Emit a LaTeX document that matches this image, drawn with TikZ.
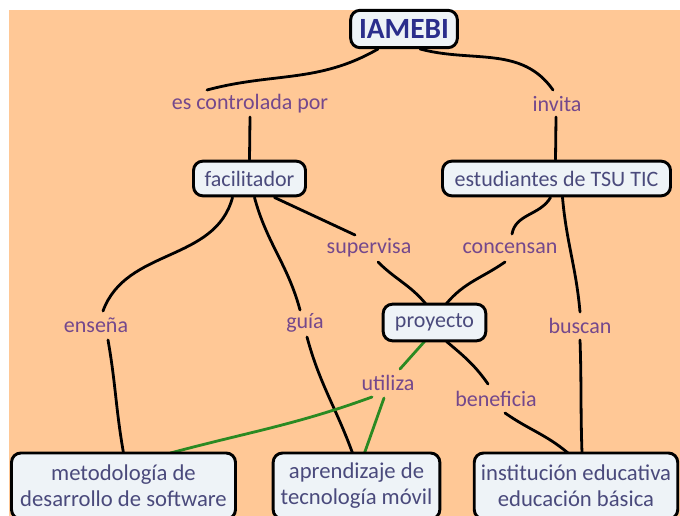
\documentclass[tikz,border=0pt]{standalone}
\usepackage{fontspec}
\setmainfont{Carlito}
\usetikzlibrary{positioning,backgrounds}
\definecolor{peach}{HTML}{FFC896}
\definecolor{boxfill}{HTML}{EEF3F7}
\definecolor{lblpurple}{HTML}{74488C}
\definecolor{boxtext}{HTML}{4A4A7C}
\definecolor{rootblue}{HTML}{2B2E8C}
\definecolor{linkgreen}{HTML}{2A8A22}

\begin{document}
\begin{tikzpicture}[x=0.75pt,y=-0.75pt,
  concept/.style={draw=black,line width=2.2pt,rounded corners=7pt,fill=boxfill,
    text=boxtext,font=\fontsize{16.5}{19.5}\selectfont,align=center,
    inner xsep=5pt,minimum height=26pt},
  link/.style={text=lblpurple,font=\fontsize{16.5}{19.5}\selectfont,inner sep=1pt},
  conn/.style={line width=2.1pt,line cap=round},
  gconn/.style={conn,draw=linkgreen}]
  \useasboundingbox (0,0) rectangle (680,516);

  % Top: root and first links
  \node[concept,minimum width=80pt,minimum height=28pt,text=rootblue,
    font=\fontsize{22}{24}\selectfont\bfseries] (iamebi) at (404,29) {IAMEBI};
  \node[link] (ctrl) at (250,104) {es controlada por};
  \node[link] (invita) at (557,104) {invita};

  % Second row
  \node[concept,minimum width=84pt] (facil) at (249.5,178.5) {facilitador};
  \node[concept,minimum width=171pt] (estud) at (556.5,178.5) {estudiantes de TSU TIC};

  % Middle: links and project
  \node[link] (superv) at (369,248) {supervisa};
  \node[link] (concen) at (510,248) {concensan};
  \node[link] (ensena) at (96,325) {enseña};
  \node[link] (guia) at (305,323) {guía};
  \node[concept,minimum width=77pt,minimum height=27.5pt] (proy) at (434.5,322.5) {proyecto};
  \node[link] (buscan) at (580,326) {buscan};
  \node[link] (utiliza) at (388,383) {utiliza};
  \node[link] (benef) at (496,399) {beneficia};

  % Bottom: leaves (cut by the page edge)
  \node[concept,minimum width=168pt,minimum height=49.5pt,font=\fontsize{17}{19.5}\selectfont] (metod) at (123.5,486)
    {metodología de\\desarrollo de software};
  \node[concept,minimum width=125pt,minimum height=49.5pt,font=\fontsize{17}{19.5}\selectfont] (aprend) at (356.5,486)
    {aprendizaje de\\tecnología móvil};
  \node[concept,minimum width=142pt,minimum height=49.5pt,font=\fontsize{17}{19.5}\selectfont] (instit) at (576,486)
    {institución educativa\\educación básica};

  \begin{scope}[on background layer]
    \fill[peach] (9,10) rectangle (680,516);
    % black connectors
    \draw[conn] ([shift={(-26,20)}]iamebi.center) to[out=210,in=15] ([shift={(-43,-14)}]ctrl.center);
    \draw[conn] ([shift={(16,20)}]iamebi.center) to[out=-15,in=125] ([shift={(-4,-14)}]invita.center);
    \draw[conn] ([shift={(0,13)}]ctrl.center) -- ([shift={(0,-19)}]facil.center);
    \draw[conn] ([shift={(-1,13)}]invita.center) -- ([shift={(-1,-19)}]estud.center);
    \draw[conn] ([shift={(-17,19)}]facil.center) to[out=255,in=70] ([shift={(7,-14)}]ensena.center);
    \draw[conn] ([shift={(12,15)}]ensena.center) to[out=-80,in=100] ([shift={(0,-33)}]metod.center);
    \draw[conn] ([shift={(5,19)}]facil.center) to[out=-75,in=105] ([shift={(-5,-13)}]guia.center);
    \draw[conn] ([shift={(2,14)}]guia.center) to[out=-75,in=110] ([shift={(-4,-33)}]aprend.center);
    \draw[conn] ([shift={(25,19)}]facil.center) to[out=-25,in=155] ([shift={(-14,-13)}]superv.center);
    \draw[conn] ([shift={(9,14)}]superv.center) to[out=-45,in=130] ([shift={(-9,-19)}]proy.center);
    \draw[conn] ([shift={(-6,19)}]estud.center) to[out=240,in=80] ([shift={(2,-14)}]concen.center);
    \draw[conn] ([shift={(-5,14)}]concen.center) to[out=215,in=50] ([shift={(12,-19)}]proy.center);
    \draw[conn] ([shift={(6,19)}]estud.center) to[out=-85,in=95] ([shift={(0,-14)}]buscan.center);
    \draw[conn] ([shift={(0,14)}]buscan.center) to[out=-88,in=92] ([shift={(6,-33)}]instit.center);
    \draw[conn] ([shift={(12,19)}]proy.center) to[out=-40,in=125] ([shift={(-8,-15)}]benef.center);
    \draw[conn] ([shift={(9,14)}]benef.center) to[out=-35,in=140] ([shift={(-8,-33)}]instit.center);
    % green connectors
    \draw[gconn] ([shift={(-10,19)}]proy.center) -- ([shift={(12,-14)}]utiliza.center);
    \draw[gconn] ([shift={(-16,14)}]utiliza.center) to[out=200,in=15] ([shift={(47,-33)}]metod.center);
    \draw[gconn] ([shift={(-4,15)}]utiliza.center) -- ([shift={(8,-33)}]aprend.center);
  \end{scope}
\end{tikzpicture}
\end{document}
